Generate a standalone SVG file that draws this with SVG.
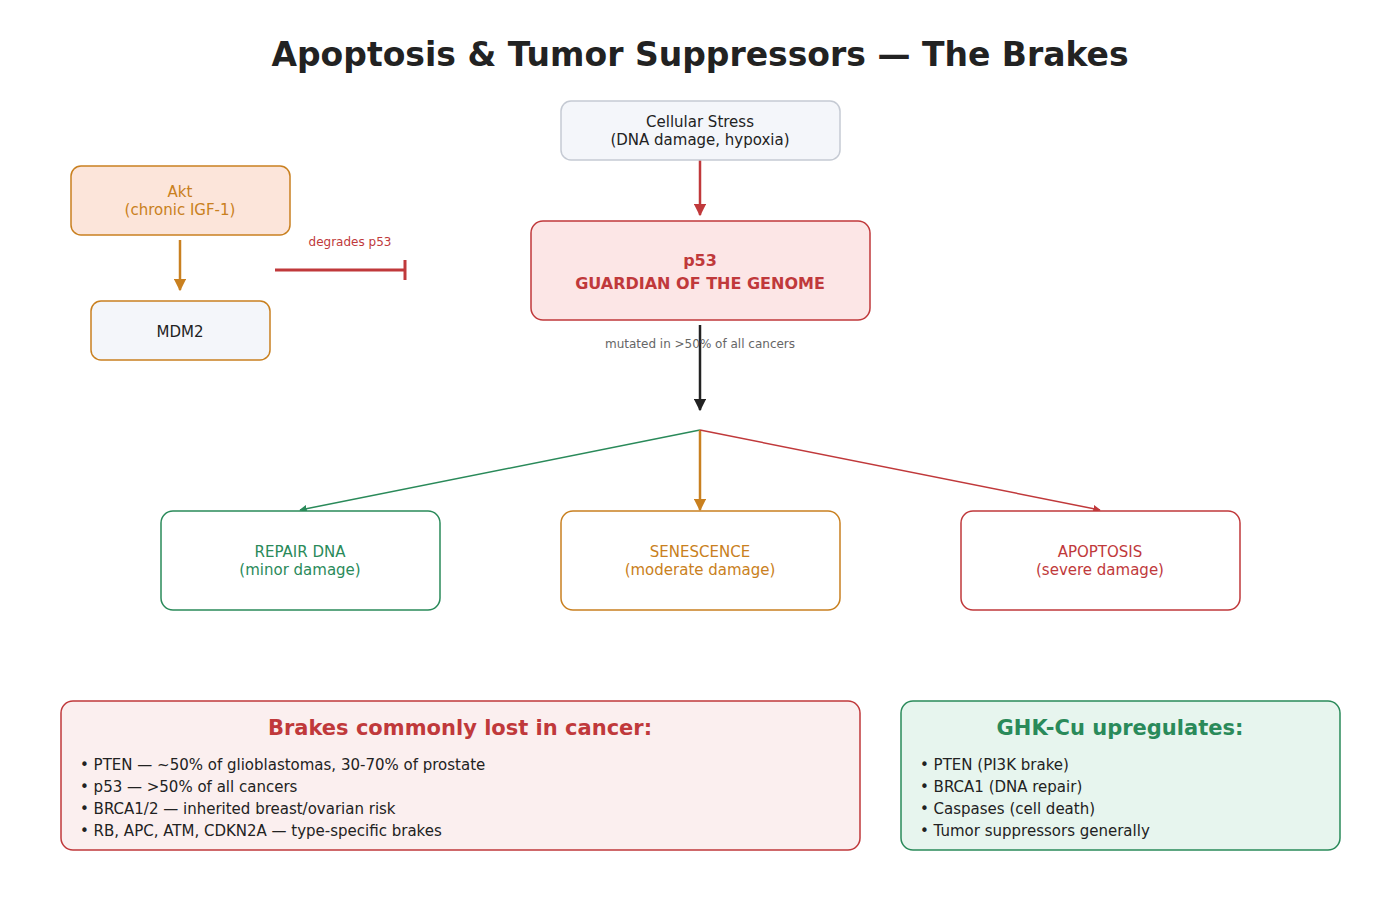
<svg xmlns="http://www.w3.org/2000/svg" width="1400" height="900" viewBox="0 0 1400 900">
<style>
text{font-family:"DejaVu Sans","Liberation Sans",sans-serif;text-anchor:middle}
.n{font-size:15px}
.li{font-size:15px;text-anchor:start;fill:#222}
</style>
<defs>
<marker id="ar" viewBox="0 0 10 10" refX="9" refY="5" markerWidth="5" markerHeight="5" orient="auto"><path d="M0,0L10,5L0,10z" fill="#c0393b"/></marker>
<marker id="ak" viewBox="0 0 10 10" refX="9" refY="5" markerWidth="5" markerHeight="5" orient="auto"><path d="M0,0L10,5L0,10z" fill="#222"/></marker>
<marker id="ao" viewBox="0 0 10 10" refX="9" refY="5" markerWidth="5" markerHeight="5" orient="auto"><path d="M0,0L10,5L0,10z" fill="#c98020"/></marker>
<marker id="ag" viewBox="0 0 10 10" refX="9" refY="5" markerWidth="5" markerHeight="5" orient="auto"><path d="M0,0L10,5L0,10z" fill="#2a8a5a"/></marker>
</defs>
<rect width="1400" height="900" fill="#fff"/>
<text x="700" y="66" font-size="33" font-weight="bold" fill="#222">Apoptosis &amp; Tumor Suppressors — The Brakes</text>
<g id="connectors" fill="none" stroke-width="2.5">
<line x1="700" y1="160" x2="700" y2="215" stroke="#c0393b" marker-end="url(#ar)"/>
<line x1="180" y1="240" x2="180" y2="290" stroke="#c98020" marker-end="url(#ao)"/>
<line x1="275" y1="270" x2="405" y2="270" stroke="#c0393b" stroke-width="3"/>
<line x1="405" y1="260" x2="405" y2="280" stroke="#c0393b" stroke-width="3"/>
<text x="350" y="246" font-size="12" fill="#c0393b" stroke="none">degrades p53</text>
<line x1="700" y1="325" x2="700" y2="410" stroke="#222" marker-end="url(#ak)"/>
<text x="700" y="348" font-size="12" fill="#666" stroke="none">mutated in &gt;50% of all cancers</text>
<line x1="700" y1="430" x2="300" y2="510" stroke="#2a8a5a" stroke-width="1.5" marker-end="url(#ag)" style="stroke-width:1.5"/>
<line x1="700" y1="430" x2="700" y2="510" stroke="#c98020" stroke-width="2.5" marker-end="url(#ao)"/>
<line x1="700" y1="430" x2="1100" y2="510" stroke="#c0393b" stroke-width="1.5" marker-end="url(#ar)"/>
</g>
<g id="stress"><rect x="561" y="101" width="279" height="59" rx="10" fill="#f4f6fa" stroke="#c5cad3" stroke-width="1.5"/><text class="n" x="700" y="127" fill="#222">Cellular Stress</text><text class="n" x="700" y="145" fill="#222">(DNA damage, hypoxia)</text></g>
<g id="akt"><rect x="71" y="166" width="219" height="69" rx="10" fill="#fce5da" stroke="#c98020" stroke-width="1.5"/><text class="n" x="180" y="197" fill="#c98020">Akt</text><text class="n" x="180" y="215" fill="#c98020">(chronic IGF-1)</text></g>
<g id="mdm2"><rect x="91" y="301" width="179" height="59" rx="10" fill="#f4f6fa" stroke="#c98020" stroke-width="1.5"/><text class="n" x="180" y="337" fill="#222">MDM2</text></g>
<g id="p53"><rect x="531" y="221" width="339" height="99" rx="12" fill="#fce6e6" stroke="#c0393b" stroke-width="1.5"/><text x="700" y="266" font-size="16" font-weight="bold" fill="#c0393b">p53</text><text x="700" y="289" font-size="16" font-weight="bold" fill="#c0393b">GUARDIAN OF THE GENOME</text></g>
<g id="repair"><rect x="161" y="511" width="279" height="99" rx="12" fill="#fff" stroke="#2a8a5a" stroke-width="1.5"/><text class="n" x="300" y="557" fill="#2a8a5a">REPAIR DNA</text><text class="n" x="300" y="575" fill="#2a8a5a">(minor damage)</text></g>
<g id="senescence"><rect x="561" y="511" width="279" height="99" rx="12" fill="#fff" stroke="#c98020" stroke-width="1.5"/><text class="n" x="700" y="557" fill="#c98020">SENESCENCE</text><text class="n" x="700" y="575" fill="#c98020">(moderate damage)</text></g>
<g id="apoptosis"><rect x="961" y="511" width="279" height="99" rx="12" fill="#fff" stroke="#c0393b" stroke-width="1.5"/><text class="n" x="1100" y="557" fill="#c0393b">APOPTOSIS</text><text class="n" x="1100" y="575" fill="#c0393b">(severe damage)</text></g>
<g id="lost"><rect x="61" y="701" width="799" height="149" rx="12" fill="#fbefef" stroke="#c0393b" stroke-width="1.5"/><text x="460" y="735" font-size="21" font-weight="bold" fill="#c0393b">Brakes commonly lost in cancer:</text>
<text class="li" x="80" y="770">• PTEN — ~50% of glioblastomas, 30-70% of prostate</text>
<text class="li" x="80" y="792">• p53 — &gt;50% of all cancers</text>
<text class="li" x="80" y="814">• BRCA1/2 — inherited breast/ovarian risk</text>
<text class="li" x="80" y="836">• RB, APC, ATM, CDKN2A — type-specific brakes</text></g>
<g id="ghk"><rect x="901" y="701" width="439" height="149" rx="12" fill="#e7f5ee" stroke="#2a8a5a" stroke-width="1.5"/><text x="1120" y="735" font-size="21" font-weight="bold" fill="#2a8a5a">GHK-Cu upregulates:</text>
<text class="li" x="920" y="770">• PTEN (PI3K brake)</text>
<text class="li" x="920" y="792">• BRCA1 (DNA repair)</text>
<text class="li" x="920" y="814">• Caspases (cell death)</text>
<text class="li" x="920" y="836">• Tumor suppressors generally</text></g>
</svg>
